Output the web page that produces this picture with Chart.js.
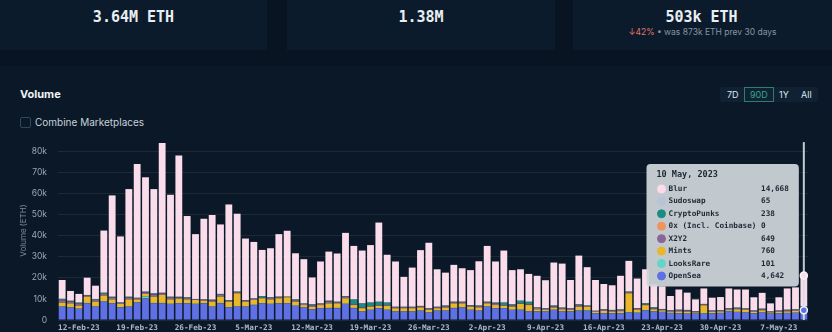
<!DOCTYPE html>
<html>
<head>
<meta charset="utf-8">
<script src="https://cdn.jsdelivr.net/npm/chart.js@4.4.0/dist/chart.umd.min.js"></script>
<style>
  body { margin: 0; width: 832px; height: 332px; overflow: hidden; background: #081421; position: relative; font-family: Inter, "Noto Sans", sans-serif; }
  .card { position: absolute; top: 0; height: 50px; background: #0c1b2b; }
  .big { position: absolute; left: 0; right: 0; top: 8px; text-align: center; font-family: "DejaVu Sans Mono", monospace; font-weight: bold; font-size: 15px; color: #e9eef3; }
  .sub { position: absolute; left: 0; right: 0; top: 27px; text-align: center; font-size: 8.5px; color: #8693a2; }
  .sub .down { color: #e0776b; }
  .panel { position: absolute; left: 0; top: 66px; width: 832px; height: 266px; background: #0a1827; }
  .title { position: absolute; left: 20px; top: 87px; font-size: 11px; font-weight: 700; color: #eef2f6; }
  .check { position: absolute; left: 20px; top: 117px; width: 9px; height: 9px; border: 1px solid #33455a; border-radius: 2px; }
  .checklabel { position: absolute; left: 35px; top: 116px; font-size: 10px; color: #c9d1d9; }
  .range { position: absolute; left: 720px; top: 87px; width: 98px; height: 15px; background: #0f2133; border-radius: 2px; }
  .range span { position: absolute; top: 2px; font-size: 9px; color: #dfe6ee; }
  .range .on { border: 1px solid #2c7f69; color: #3aa585; top: 0; height: 13px; line-height: 13px; padding: 0 5px; }
  #wrap { position: absolute; left: 0; top: 125px; width: 832px; height: 215px; }
</style>
</head>
<body>
<div class="card" style="left:0;width:267px"><div class="big">3.64M ETH</div></div>
<div class="card" style="left:287px;width:268px"><div class="big">1.38M</div></div>
<div class="card" style="left:573px;width:259px">
  <div class="big" style="left:-2px">503k ETH</div>
  <div class="sub"><span class="down">↓42%</span> • was 873k ETH prev 30 days</div>
</div>
<div class="panel"></div>
<div class="title">Volume</div>
<div class="check"></div>
<div class="checklabel">Combine Marketplaces</div>
<div class="range">
  <span style="left:7px">7D</span>
  <span class="on" style="left:24px">90D</span>
  <span style="left:59px">1Y</span>
  <span style="left:81px">All</span>
</div>
<div id="wrap"><canvas id="volumeChart"></canvas></div>

<script>
// daily volume in ETH, 10 Feb 2023 .. 10 May 2023
var openSea = [
  6300, 5900, 5300, 7900, 6300, 8700, 7900, 6000, 6300, 8300,
  10300, 7900, 7900, 7600, 7900, 7900, 7600, 7900, 6300, 7900,
  6000, 6300, 6300, 7100, 7900, 7600, 7900, 7900, 6700, 5900,
  5100, 5600, 5600, 5600, 7600, 5600, 4000, 4800, 5600, 4800,
  4000, 4000, 4000, 4400, 3500, 4400, 4400, 5600, 5900, 4800,
  4400, 6300, 5600, 5600, 4800, 4800, 4000, 4000, 4000, 4800,
  4000, 4000, 4400, 4400, 3200, 3200, 3200, 3200, 3500, 3400,
  4500, 4000, 3800, 3300, 3200, 3000, 3000, 3000, 3200, 3300,
  4200, 3800, 3500, 3200, 3500, 3000, 3200, 3300, 3400, 4642
];
var looksRare = [
  200, 150, 150, 200, 150, 200, 150, 100, 150, 150,
  800, 200, 200, 150, 150, 150, 150, 100, 150, 200,
  150, 200, 150, 150, 150, 150, 150, 150, 150, 100,
  100, 100, 150, 150, 200, 150, 100, 100, 100, 100,
  100, 100, 100, 100, 100, 100, 100, 150, 150, 100,
  100, 150, 100, 100, 100, 150, 150, 100, 100, 100,
  100, 100, 150, 150, 100, 100, 100, 100, 200, 100,
  150, 100, 100, 100, 100, 100, 100, 200, 100, 100,
  100, 100, 100, 100, 100, 100, 100, 100, 100, 101
];
var mints = [
  1700, 1850, 1350, 3000, 2250, 2700, 1750, 1500, 3350, 1350,
  1300, 3000, 3800, 2050, 2050, 1750, 1750, 1200, 2250, 3000,
  2550, 6200, 2250, 2250, 2250, 2050, 2250, 2750, 1850, 1100,
  1100, 1400, 2150, 2150, 2500, 1350, 1500, 1400, 1000, 1800,
  1500, 1500, 1500, 1500, 1200, 1100, 1400, 2150, 1850, 1400,
  1500, 1450, 1400, 1000, 1400, 2650, 2950, 1000, 700, 1000,
  1000, 700, 1750, 1750, 700, 1000, 700, 900, 9000, 1400,
  2400, 1000, 700, 600, 800, 800, 500, 3800, 600, 700,
  600, 1200, 1300, 600, 1000, 500, 600, 700, 800, 760
];
var x2y2 = [
  1200, 800, 900, 500, 800, 800, 800, 500, 800, 500,
  700, 1000, 700, 800, 600, 600, 300, 350, 600, 800,
  500, 500, 500, 500, 200, 600, 500, 150, 700, 500,
  700, 500, 800, 500, 700, 300, 300, 300, 300, 300,
  450, 450, 450, 450, 500, 450, 600, 500, 500, 500,
  550, 500, 700, 300, 700, 300, 300, 600, 500, 600,
  500, 500, 700, 350, 250, 500, 500, 500, 500, 500,
  300, 400, 400, 400, 500, 600, 400, 400, 400, 400,
  400, 500, 400, 400, 500, 300, 400, 500, 500, 649
];
var zeroEx = [
  100, 50, 50, 50, 50, 50, 50, 50, 50, 50,
  50, 50, 50, 50, 50, 50, 50, 50, 50, 50,
  50, 50, 50, 50, 50, 50, 50, 20, 50, 50,
  50, 50, 50, 50, 50, 50, 50, 50, 50, 50,
  50, 50, 50, 50, 50, 50, 50, 50, 50, 50,
  50, 50, 50, 50, 50, 50, 50, 50, 50, 50,
  50, 50, 50, 50, 20, 50, 50, 50, 50, 50,
  50, 50, 50, 50, 50, 50, 50, 50, 50, 50,
  50, 50, 50, 50, 50, 50, 50, 50, 50, 0
];
var cryptoPunks = [
  400, 300, 400, 200, 300, 400, 300, 150, 300, 150,
  250, 400, 250, 300, 250, 250, 100, 150, 250, 350,
  200, 200, 200, 200, 800, 250, 200, 100, 250, 150,
  300, 150, 350, 200, 250, 2200, 1850, 1550, 1550, 1150,
  150, 150, 150, 150, 200, 150, 250, 200, 200, 200,
  200, 200, 350, 1150, 300, 1150, 1150, 200, 200, 250,
  200, 200, 300, 150, 100, 200, 200, 200, 200, 200,
  500, 400, 150, 150, 200, 200, 150, 150, 150, 150,
  200, 200, 150, 150, 200, 100, 150, 200, 200, 238
];
var sudoswap = [
  200, 150, 150, 50, 150, 150, 150, 100, 150, 100,
  100, 150, 100, 150, 100, 100, 50, 50, 100, 100,
  50, 50, 50, 50, 50, 100, 50, 30, 100, 100,
  150, 100, 100, 50, 100, 150, 100, 100, 100, 100,
  50, 50, 50, 50, 50, 50, 100, 50, 50, 50,
  100, 50, 100, 100, 150, 100, 100, 50, 50, 100,
  50, 50, 150, 50, 30, 50, 50, 50, 50, 50,
  50, 50, 50, 50, 50, 50, 50, 50, 50, 50,
  50, 50, 50, 50, 50, 50, 50, 50, 50, 65
];
var blur = [
  8900, 4600, 4100, 8200, 6300, 29500, 48100, 31300, 51100, 63500,
  54300, 49500, 71100, 48400, 67100, 38600, 30800, 38300, 40200, 33000,
  45400, 37000, 29200, 26800, 21900, 23300, 29700, 31300, 21900, 21000,
  12700, 19900, 23300, 22900, 30000, 25400, 25100, 27300, 37600, 22700,
  21500, 14200, 18600, 26500, 31100, 17800, 15600, 17500, 15900, 16600,
  21000, 26500, 19500, 24700, 16200, 14900, 13200, 15000, 13300, 20400,
  20900, 13400, 23100, 18200, 14600, 12000, 11700, 16000, 14600, 14000,
  16150, 11000, 10750, 6750, 9600, 8200, 5550, 7350, 6050, 6150,
  9400, 8600, 8950, 6250, 7500, 3800, 6250, 10100, 10400, 14668
];

var tickLabels = ['12-Feb-23', '19-Feb-23', '26-Feb-23', '5-Mar-23', '12-Mar-23', '19-Mar-23',
  '26-Mar-23', '2-Apr-23', '9-Apr-23', '16-Apr-23', '23-Apr-23', '30-Apr-23', '7-May-23'];
var yTicks = [0, 10000, 20000, 30000, 40000, 50000, 60000, 70000, 80000];

var months = ['Jan', 'Feb', 'Mar', 'Apr', 'May', 'Jun', 'Jul', 'Aug', 'Sep', 'Oct', 'Nov', 'Dec'];
var days = [];
var dayTitles = [];
for (var i = 0; i < blur.length; i++) {
  var d = new Date(Date.UTC(2023, 1, 10 + i));
  days.push(d.getUTCDate() + '-' + months[d.getUTCMonth()] + '-' + String(d.getUTCFullYear()).slice(2));
  dayTitles.push(d.getUTCDate() + ' ' + months[d.getUTCMonth()] + ', ' + d.getUTCFullYear());
}

// bottom of the stack first
var series = [
  { label: 'OpenSea', data: openSea, color: '#5e70e4' },
  { label: 'LooksRare', data: looksRare, color: '#62d6c8' },
  { label: 'Mints', data: mints, color: '#e9b62c' },
  { label: 'X2Y2', data: x2y2, color: '#8c6398' },
  { label: '0x (Incl. Coinbase)', data: zeroEx, color: '#ee955a' },
  { label: 'CryptoPunks', data: cryptoPunks, color: '#1a8c82' },
  { label: 'Sudoswap', data: sudoswap, color: '#b6c4d6' },
  { label: 'Blur', data: blur, color: '#fbdcea' }
];

var mono = '"DejaVu Sans Mono", "Liberation Mono", monospace';

Chart.Tooltip.positioners.besideBar = function (items) {
  if (!items.length) return false;
  var el = items[0].element;
  return { x: el.x - 9, y: this.chart.chartArea.top + 23, xAlign: 'right', yAlign: 'top' };
};

// hover line and markers on the selected day
var crosshair = {
  id: 'crosshair',
  afterDatasetsDraw: function (chart) {
    var act = chart.tooltip.getActiveElements();
    if (!act.length) return;
    var ctx = chart.ctx, area = chart.chartArea;
    var x = act[0].element.x;
    ctx.save();
    ctx.strokeStyle = 'rgba(214,222,230,0.9)';
    ctx.lineWidth = 2;
    ctx.beginPath();
    ctx.moveTo(x, area.top + 1);
    ctx.lineTo(x, area.bottom);
    ctx.stroke();
    [series.length - 1, 0].forEach(function (ds) {
      var el = chart.getDatasetMeta(ds).data[act[0].index];
      ctx.beginPath();
      ctx.arc(x, el.y, 3.5, 0, Math.PI * 2);
      ctx.fillStyle = series[ds].color;
      ctx.fill();
      ctx.lineWidth = 1.5;
      ctx.strokeStyle = '#f4f6f8';
      ctx.stroke();
    });
    ctx.restore();
  }
};

var chart = new Chart(document.getElementById('volumeChart'), {
  type: 'bar',
  data: {
    labels: days,
    datasets: series.map(function (s) {
      return {
        label: s.label,
        data: s.data,
        backgroundColor: s.color,
        hoverBackgroundColor: s.color,
        borderWidth: 0,
        barPercentage: 0.82,
        categoryPercentage: 1
      };
    })
  },
  options: {
    responsive: true,
    maintainAspectRatio: false,
    animation: false,
    layout: { padding: { top: 0, right: 24, left: 0, bottom: 0 } },
    interaction: { mode: 'index', intersect: false },
    plugins: {
      legend: { display: false },
      tooltip: {
        position: 'besideBar',
        backgroundColor: 'rgba(205,212,217,0.94)',
        titleColor: '#1e2834',
        bodyColor: '#1e2834',
        titleFont: { family: mono, size: 8.5, weight: 'bold' },
        bodyFont: { family: mono, size: 7.7, weight: 'bold' },
        titleMarginBottom: 4,
        bodySpacing: 3.2,
        padding: { top: 6, bottom: 6, left: 10, right: 10 },
        cornerRadius: 4,
        caretSize: 0,
        caretPadding: 0,
        usePointStyle: true,
        boxWidth: 10,
        boxHeight: 8,
        multiKeyBackground: 'rgba(0,0,0,0)',
        itemSort: function (a, b) { return b.datasetIndex - a.datasetIndex; },
        callbacks: {
          title: function (items) { return dayTitles[items[0].dataIndex]; },
          label: function (c) {
            return c.dataset.label.padEnd(20) + c.parsed.y.toLocaleString('en-US');
          },
          labelColor: function (c) {
            var col = series[c.datasetIndex].color;
            return { borderColor: col, backgroundColor: col, borderWidth: 0 };
          },
          labelPointStyle: function () { return { pointStyle: 'circle', rotation: 0 }; }
        }
      }
    },
    scales: {
      x: {
        stacked: true,
        grid: { display: false, drawTicks: false },
        border: { display: false },
        afterFit: function (scale) { scale.height = 20; },
        ticks: {
          autoSkip: false,
          maxRotation: 0,
          padding: 3,
          color: '#aeb8c4',
          font: { family: mono, size: 7.7, weight: 'bold' },
          callback: function (v, i) {
            return tickLabels.indexOf(days[i]) >= 0 ? days[i] : '';
          }
        }
      },
      y: {
        stacked: true,
        min: 0,
        max: 85000,
        afterFit: function (scale) { scale.width = 58; },
        afterBuildTicks: function (scale) {
          scale.ticks = yTicks.map(function (v) { return { value: v }; });
        },
        grid: { color: 'rgba(255,255,255,0.075)', drawTicks: false },
        border: { display: false },
        title: {
          display: true,
          text: 'Volume (ETH)',
          color: '#7e8a98',
          font: { family: 'Inter, sans-serif', size: 8 },
          padding: { top: 19, bottom: 0 }
        },
        ticks: {
          padding: 11,
          color: '#9ba6b3',
          font: { family: 'Inter, sans-serif', size: 8.5 },
          callback: function (v) { return v === 0 ? '0' : (v / 1000) + 'k'; }
        }
      }
    }
  },
  plugins: [crosshair]
});

var hovered = series.map(function (s, i) { return { datasetIndex: i, index: blur.length - 1 }; });
chart.setActiveElements(hovered);
chart.tooltip.setActiveElements(hovered, { x: 0, y: 0 });
chart.update();
</script>
</body>
</html>
